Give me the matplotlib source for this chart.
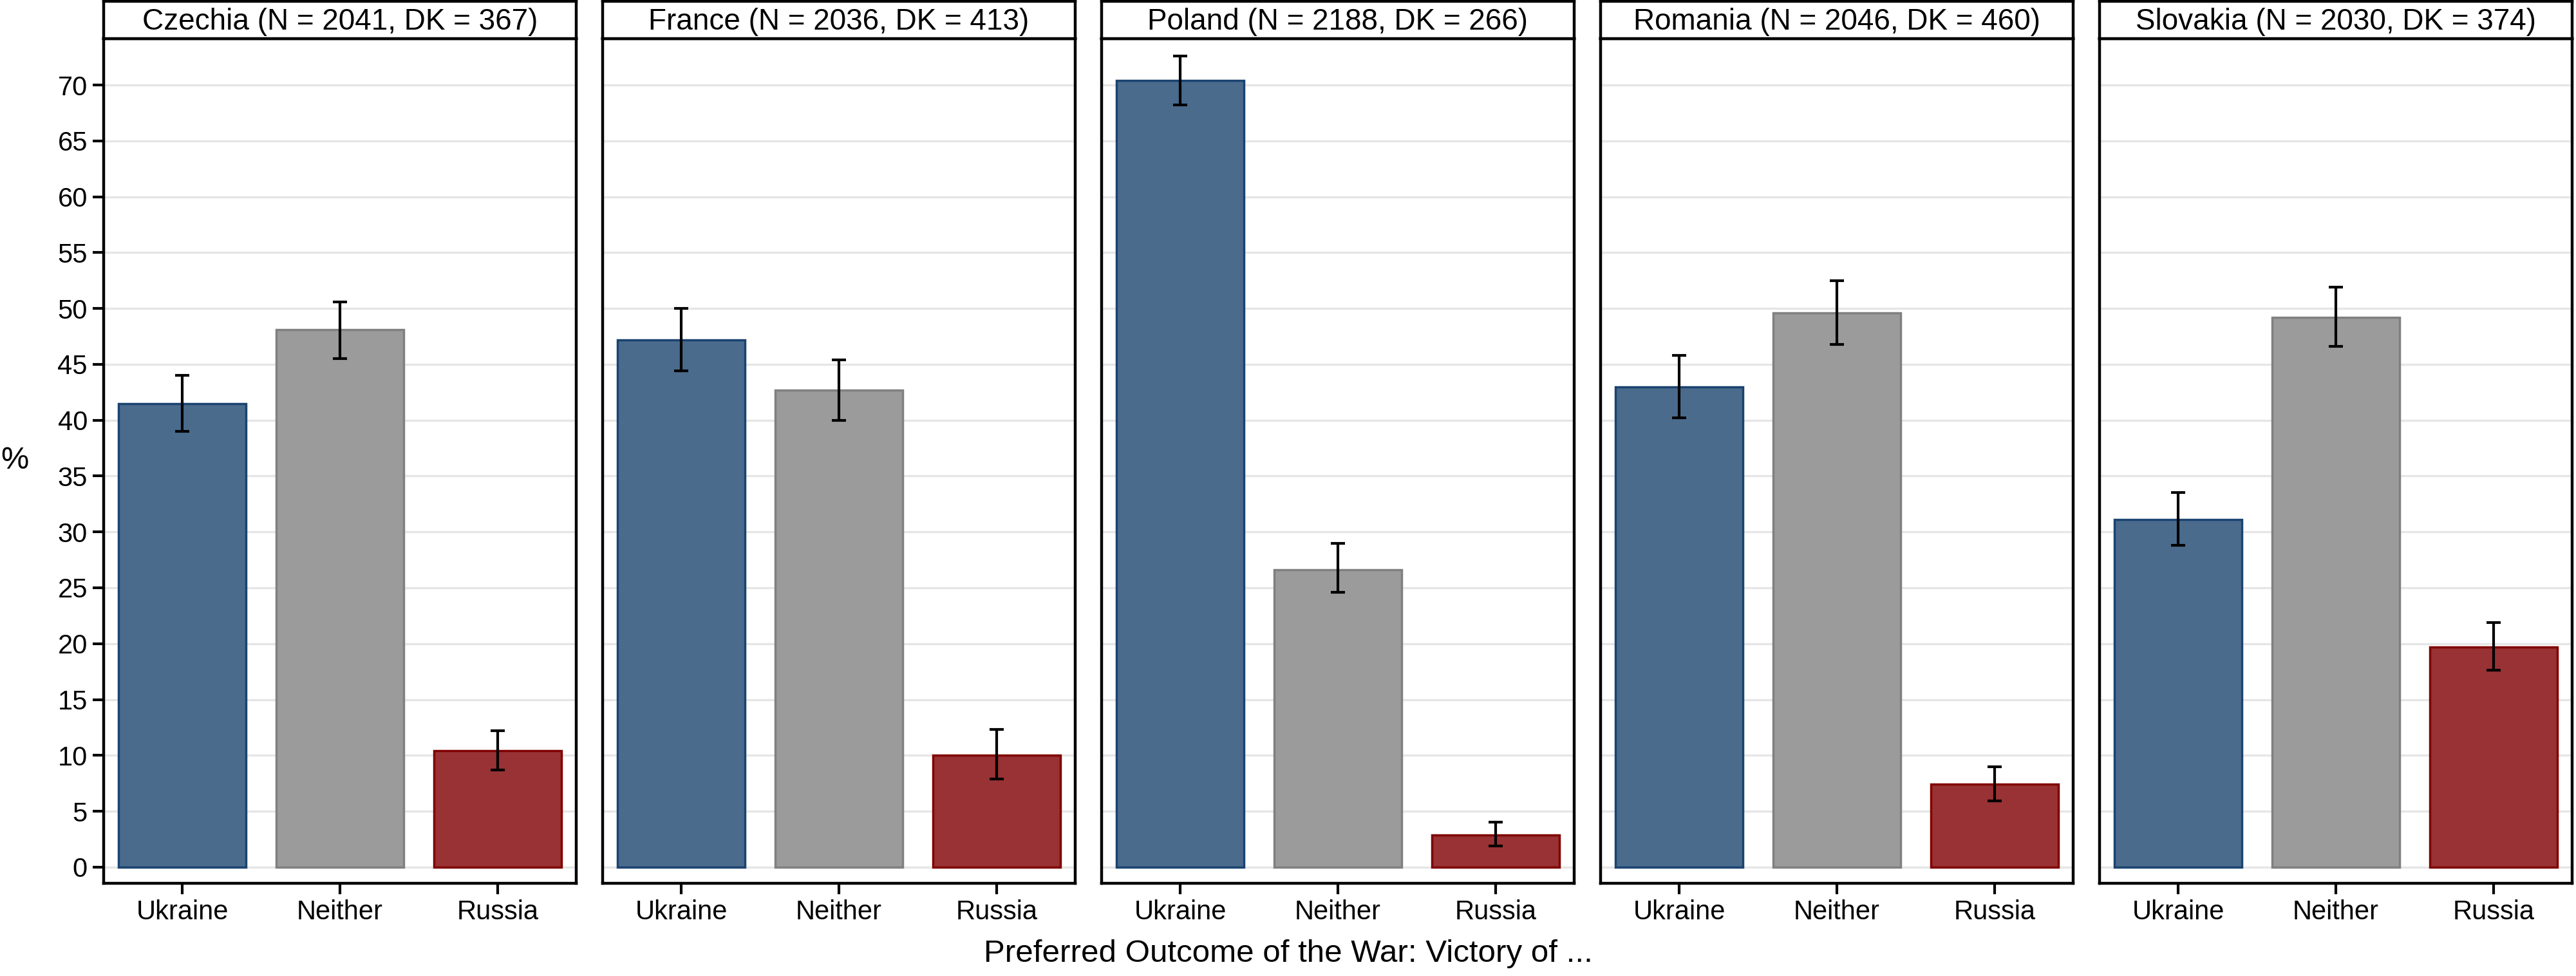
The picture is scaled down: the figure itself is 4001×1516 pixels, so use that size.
import numpy as np
import matplotlib.pyplot as plt

plt.rcParams['font.family'] = ['Liberation Sans', 'DejaVu Sans']

# data
countries = ['Czechia', 'France', 'Poland', 'Romania', 'Slovakia']
n_resp = [2041, 2036, 2188, 2046, 2030]
dk_resp = [367, 413, 266, 460, 374]
outcomes = ['Ukraine', 'Neither', 'Russia']

share = [[41.5, 48.1, 10.4],
         [47.2, 42.7, 10.0],
         [70.4, 26.6, 2.9],
         [43.0, 49.6, 7.4],
         [31.1, 49.2, 19.7]]
ci_low = [[39.0, 45.5, 8.7],
          [44.4, 40.0, 7.9],
          [68.2, 24.6, 1.9],
          [40.2, 46.8, 5.9],
          [28.8, 46.6, 17.6]]
ci_high = [[44.0, 50.6, 12.2],
           [50.0, 45.4, 12.3],
           [72.6, 29.0, 4.0],
           [45.8, 52.5, 9.0],
           [33.5, 51.9, 21.9]]

fills = ['#4a6b8c', '#9b9b9b', '#983234']
edges = ['#1a4370', '#808080', '#800000']

W, H = 4001, 1516
fig = plt.figure(figsize=(W / 100, H / 100), dpi=100)

left0, pw, gap = 161, 734, 41
top, bottom = 60, 1372
x = np.arange(1, 4)

for i, c in enumerate(countries):
    l = left0 + i * (pw + gap)
    ax = fig.add_axes([l / W, (H - bottom) / H, pw / W, (bottom - top) / H])
    s = np.array(share[i])
    err = [s - np.array(ci_low[i]), np.array(ci_high[i]) - s]
    ax.bar(x, s, width=0.81, color=fills, edgecolor=edges, linewidth=2.5, zorder=2)
    ax.errorbar(x, s, yerr=err, fmt='none', ecolor='black', elinewidth=3,
                capsize=8, capthick=3, zorder=3)
    ax.set_xlim(0.5, 3.5)
    ax.set_ylim(-1.45, 74.15)
    ax.set_yticks(np.arange(0, 71, 5))
    ax.yaxis.grid(True, color='#e6e6e6', linewidth=2.4, zorder=0)
    ax.set_axisbelow(True)
    ax.set_xticks(x)
    ax.set_xticklabels(outcomes)
    ax.tick_params(axis='x', length=12, width=3, labelsize=30, pad=6)
    if i == 0:
        ax.tick_params(axis='y', length=12, width=3, labelsize=30, pad=6)
    else:
        ax.tick_params(axis='y', length=0, labelleft=False)
    for sp in ax.spines.values():
        sp.set_linewidth(3.2)

    hx = fig.add_axes([l / W, (H - top) / H, pw / W, (top - 2) / H])
    hx.set_xticks([])
    hx.set_yticks([])
    for sp in hx.spines.values():
        sp.set_linewidth(3.2)
    hx.text(0.5, 0.45, f'{c} (N = {n_resp[i]}, DK = {dk_resp[i]})',
            ha='center', va='center', fontsize=33, transform=hx.transAxes)

fig.text(23 / W, 1 - 716 / H, '%', ha='center', va='center', fontsize=35)
fig.text(0.5, 1 - 1482 / H, 'Preferred Outcome of the War: Victory of ...',
         ha='center', va='center', fontsize=35.5)

fig.savefig('out.png', dpi=100)
